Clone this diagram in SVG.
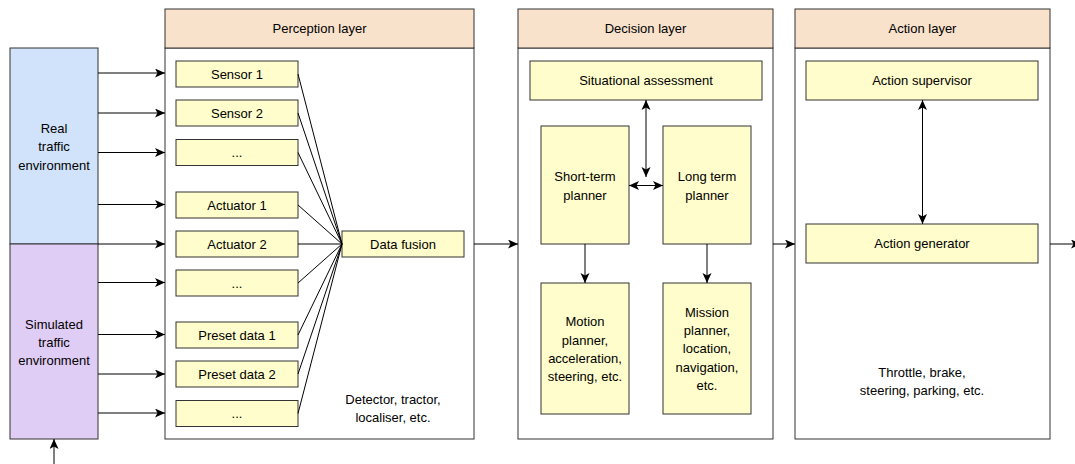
<svg xmlns="http://www.w3.org/2000/svg" width="1075" height="464" viewBox="0 0 1075 464">
  <style>
    text { font-family: "Liberation Sans", Arial, sans-serif; font-size: 13px; fill: #000; text-anchor: middle; }
    .box { fill: #fffdcc; stroke: #333; stroke-width: 1; }
    .layer { fill: #fff; stroke: #333; stroke-width: 1; }
    .head { fill: #f9e2cc; stroke: #333; stroke-width: 1; }
    .real { fill: #d0e3fb; stroke: #333; stroke-width: 1; }
    .sim { fill: #e0cdf6; stroke: #333; stroke-width: 1; }
    .edge { fill: none; stroke: #000; stroke-width: 1; }
    .arr { marker-end: url(#head); }
    .both { marker-start: url(#tail); marker-end: url(#head); }
  </style>
  <defs>
    <marker id="head" markerUnits="userSpaceOnUse" markerWidth="11" markerHeight="10" refX="10" refY="4.5" orient="auto">
      <path d="M0,0 L10,4.5 L0,9 L2.5,4.5 Z" fill="#000"/>
    </marker>
    <marker id="tail" markerUnits="userSpaceOnUse" markerWidth="11" markerHeight="10" refX="0" refY="4.5" orient="auto">
      <path d="M10,0 L0,4.5 L10,9 L7.5,4.5 Z" fill="#000"/>
    </marker>
  </defs>

  <!-- traffic environments -->
  <g id="real-env">
    <rect class="real" x="10" y="48" width="88" height="196"/>
    <text x="54" y="132.5">Real</text>
    <text x="54" y="151">traffic</text>
    <text x="54" y="169.5">environment</text>
  </g>
  <g id="sim-env">
    <rect class="sim" x="10" y="244" width="88" height="195"/>
    <text x="54" y="329">Simulated</text>
    <text x="54" y="347">traffic</text>
    <text x="54" y="365">environment</text>
  </g>

  <!-- perception layer -->
  <g id="perception-layer">
    <rect class="layer" x="165" y="48" width="309" height="391"/>
    <rect class="head" x="165" y="9" width="309" height="39"/>
    <text x="319.5" y="33">Perception layer</text>
    <text x="393" y="403.5">Detector, tractor,</text>
    <text x="393" y="422">localiser, etc.</text>
  </g>
  <g id="sensor-1"><rect class="box" x="176" y="61" width="122" height="26"/><text x="237" y="78.5">Sensor 1</text></g>
  <g id="sensor-2"><rect class="box" x="176" y="100" width="122" height="26"/><text x="237" y="117.5">Sensor 2</text></g>
  <g id="sensor-more"><rect class="box" x="176" y="139.5" width="122" height="26"/><text x="237" y="157">...</text></g>
  <g id="actuator-1"><rect class="box" x="176" y="192" width="122" height="26"/><text x="237" y="209.5">Actuator 1</text></g>
  <g id="actuator-2"><rect class="box" x="176" y="231" width="122" height="26"/><text x="237" y="248.5">Actuator 2</text></g>
  <g id="actuator-more"><rect class="box" x="176" y="270" width="122" height="26"/><text x="237" y="287.5">...</text></g>
  <g id="preset-1"><rect class="box" x="176" y="322" width="122" height="26"/><text x="237" y="339.5">Preset data 1</text></g>
  <g id="preset-2"><rect class="box" x="176" y="361" width="122" height="26"/><text x="237" y="378.5">Preset data 2</text></g>
  <g id="preset-more"><rect class="box" x="176" y="400.5" width="122" height="26"/><text x="237" y="418">...</text></g>
  <g id="data-fusion"><rect class="box" x="342" y="231" width="122" height="26"/><text x="403" y="248.5">Data fusion</text></g>

  <!-- decision layer -->
  <g id="decision-layer">
    <rect class="layer" x="518" y="48" width="255" height="391"/>
    <rect class="head" x="518" y="9" width="255" height="39"/>
    <text x="645.5" y="33">Decision layer</text>
  </g>
  <g id="situational-assessment"><rect class="box" x="530" y="61" width="232" height="39"/><text x="646" y="85">Situational assessment</text></g>
  <g id="short-term-planner">
    <rect class="box" x="541" y="126" width="88" height="118"/>
    <text x="585" y="181">Short-term</text>
    <text x="585" y="199.5">planner</text>
  </g>
  <g id="long-term-planner">
    <rect class="box" x="663" y="126" width="88" height="118"/>
    <text x="707" y="181">Long term</text>
    <text x="707" y="199.5">planner</text>
  </g>
  <g id="motion-planner">
    <rect class="box" x="541" y="283" width="88" height="131"/>
    <text x="585" y="326">Motion</text>
    <text x="585" y="344.5">planner,</text>
    <text x="585" y="363">acceleration,</text>
    <text x="585" y="381">steering, etc.</text>
  </g>
  <g id="mission-planner">
    <rect class="box" x="663" y="283" width="88" height="131"/>
    <text x="707" y="316.5">Mission</text>
    <text x="707" y="335">planner,</text>
    <text x="707" y="353">location,</text>
    <text x="707" y="371.5">navigation,</text>
    <text x="707" y="390">etc.</text>
  </g>

  <!-- action layer -->
  <g id="action-layer">
    <rect class="layer" x="795" y="48" width="255" height="391"/>
    <rect class="head" x="795" y="9" width="255" height="39"/>
    <text x="922.5" y="33">Action layer</text>
    <text x="922" y="376.5">Throttle, brake,</text>
    <text x="922" y="395">steering, parking, etc.</text>
  </g>
  <g id="action-supervisor"><rect class="box" x="806" y="61" width="232" height="39"/><text x="922" y="85">Action supervisor</text></g>
  <g id="action-generator"><rect class="box" x="806" y="224" width="232" height="39"/><text x="922" y="248">Action generator</text></g>

  <!-- connectors -->
  <g id="connectors">
    <!-- environment inputs -->
    <line class="edge arr" x1="98" y1="73" x2="165" y2="73"/>
    <line class="edge arr" x1="98" y1="113" x2="165" y2="113"/>
    <line class="edge arr" x1="98" y1="152.5" x2="165" y2="152.5"/>
    <line class="edge arr" x1="98" y1="204.5" x2="165" y2="204.5"/>
    <line class="edge arr" x1="98" y1="244" x2="165" y2="244"/>
    <line class="edge arr" x1="98" y1="282.5" x2="165" y2="282.5"/>
    <line class="edge arr" x1="98" y1="334.5" x2="165" y2="334.5"/>
    <line class="edge arr" x1="98" y1="374" x2="165" y2="374"/>
    <line class="edge arr" x1="98" y1="413" x2="165" y2="413"/>
    <line class="edge arr" x1="54" y1="464" x2="54" y2="439"/>
    <!-- fan-in to data fusion -->
    <line class="edge" x1="298" y1="74" x2="342" y2="244"/>
    <line class="edge" x1="298" y1="113" x2="342" y2="244"/>
    <line class="edge" x1="298" y1="152.5" x2="342" y2="244"/>
    <line class="edge" x1="298" y1="205" x2="342" y2="244"/>
    <line class="edge" x1="298" y1="244" x2="342" y2="244"/>
    <line class="edge" x1="298" y1="283" x2="342" y2="244"/>
    <line class="edge" x1="298" y1="335" x2="342" y2="244"/>
    <line class="edge" x1="298" y1="374" x2="342" y2="244"/>
    <line class="edge" x1="298" y1="413.5" x2="342" y2="244"/>
    <!-- layer to layer -->
    <line class="edge arr" x1="474" y1="244" x2="518" y2="244"/>
    <line class="edge arr" x1="773" y1="244" x2="795" y2="244"/>
    <line class="edge arr" x1="1050" y1="244" x2="1081" y2="244"/>
    <!-- decision internals -->
    <line class="edge both" x1="646" y1="100" x2="646" y2="177"/>
    <line class="edge both" x1="629" y1="185.5" x2="663" y2="185.5"/>
    <line class="edge arr" x1="585" y1="244" x2="585" y2="283"/>
    <line class="edge arr" x1="707" y1="244" x2="707" y2="283"/>
    <!-- action internals -->
    <line class="edge both" x1="922.5" y1="100" x2="922.5" y2="224"/>
  </g>
</svg>
